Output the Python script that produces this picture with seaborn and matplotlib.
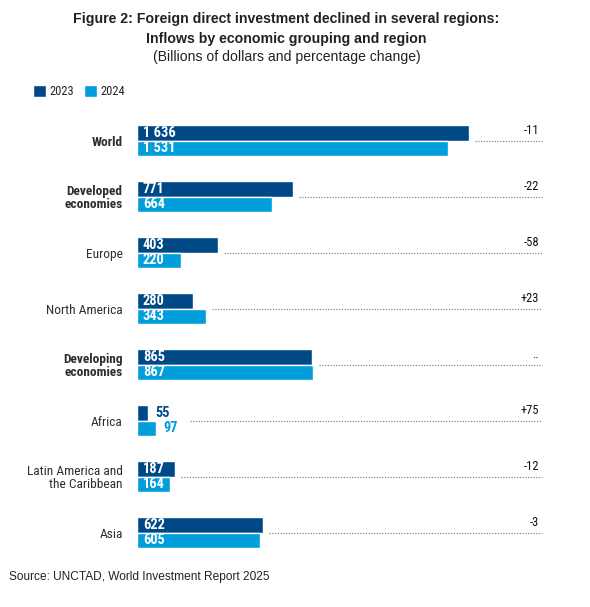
import matplotlib
matplotlib.use("Agg")
import matplotlib.pyplot as plt
from matplotlib import font_manager as fm
import seaborn as sns
import pandas as pd

# ---- data ----
regions = ["World", "Developed\neconomies", "Europe", "North America",
           "Developing\neconomies", "Africa", "Latin America and\nthe Caribbean", "Asia"]
bold_rows = [True, True, False, False, True, False, False, False]
years = ["2023", "2024"]
v2023 = [1636, 771, 403, 280, 865, 55, 187, 622]
v2024 = [1531, 664, 220, 343, 867, 97, 164, 605]
pct_change = ["-11", "-22", "-58", "+23", "..", "+75", "-12", "-3"]

DARK = "#004987"
LIGHT = "#009EDB"


def has_font(name):
    try:
        fm.findfont(fm.FontProperties(family=name), fallback_to_default=False)
        return True
    except Exception:
        return False


NARROW = next((f for f in ["Roboto Condensed", "Archivo Narrow", "PT Sans Narrow", "Liberation Sans"]
               if has_font(f)), "DejaVu Sans")
REG = "Liberation Sans" if has_font("Liberation Sans") else "DejaVu Sans"

sns.set_theme(style="white")
plt.rcParams["font.family"] = [NARROW, "DejaVu Sans"]

df = pd.DataFrame({
    "region": regions * 2,
    "year": [years[0]] * len(regions) + [years[1]] * len(regions),
    "value": v2023 + v2024,
})

W, H = 590, 607
fig = plt.figure(figsize=(W / 100, H / 100), dpi=100)
left_px, right_px = 136.5, 542.0
top_px, bot_px = 112.7, 560.7
ax = fig.add_axes([left_px / W, 1 - bot_px / H, (right_px - left_px) / W, (bot_px - top_px) / H])

sns.barplot(data=df, y="region", x="value", hue="year", orient="h",
            palette=[DARK, LIGHT], width=0.554, saturation=1, ax=ax,
            order=regions, hue_order=years)

ax.set_xlim(0, 1994)
ax.set_ylim(len(regions) - 0.5, -0.5)
ax.set_xticks([])
ax.set_xlabel("")
ax.set_ylabel("")
for s in ax.spines.values():
    s.set_visible(False)
ax.tick_params(axis="y", length=0, pad=10)
ax.set_yticks(range(len(regions)))
ax.set_yticklabels(regions)
for lab, b in zip(ax.get_yticklabels(), bold_rows):
    lab.set_fontsize(9.6)
    lab.set_color("#2e2e2e")
    lab.set_linespacing(1.0)
    lab.set_fontweight("bold" if b else "normal")

# legend
handles, labels = ax.get_legend_handles_labels()
ax.get_legend().remove()
fig.legend(handles, labels, loc="center left", bbox_to_anchor=(33 / W, 1 - 91.5 / H),
           ncol=2, frameon=False, borderpad=0, borderaxespad=0,
           handlelength=1.05, handleheight=1.05, handletextpad=0.25,
           columnspacing=0.8, prop={"family": NARROW, "size": 9})

# value labels
INSIDE_MIN = 150
outside_texts = {}
for cont, col in zip(ax.containers, [DARK, LIGHT]):
    for i, bar in enumerate(cont):
        w = bar.get_width()
        yc = bar.get_y() + bar.get_height() / 2
        lbl = f"{int(w):,}".replace(",", " ")
        if w >= INSIDE_MIN:
            ax.annotate(lbl, (0, yc), xytext=(4.5, 0), textcoords="offset points",
                        ha="left", va="center", color="white", fontweight="bold",
                        fontsize=10.4)
        else:
            t = ax.annotate(lbl, (w, yc), xytext=(5.5, 0), textcoords="offset points",
                            ha="left", va="center", color=col, fontweight="bold",
                            fontsize=10.4)
            outside_texts.setdefault(i, []).append(t)

fig.canvas.draw()
renderer = fig.canvas.get_renderer()
inv = ax.transData.inverted()

# dotted leaders and percent labels
for i in range(len(regions)):
    ends_px = []
    for cont in ax.containers:
        bar = cont[i]
        ends_px.append(ax.transData.transform((bar.get_width(), 0))[0] + 6)
    for t in outside_texts.get(i, []):
        ends_px.append(t.get_window_extent(renderer).x1 + 12)
    start = inv.transform((max(ends_px), 0))[0]
    ax.plot([start, 1994], [i, i], color="#8a8a8a", lw=0.9,
            linestyle=(0, (1, 1.2)), solid_capstyle="butt", clip_on=False)
    ax.annotate(pct_change[i], (1994, i), xytext=(-2.2, 2.5), textcoords="offset points",
                ha="right", va="bottom", fontsize=9, color="#111111")

# titles
cx = 286.5 / W
fig.text(cx, 1 - 19.5 / H, "Figure 2: Foreign direct investment declined in several regions:",
         ha="center", va="center", fontsize=10.15, fontweight="bold", family=REG, color="#222222")
fig.text(cx, 1 - 38.5 / H, "Inflows by economic grouping and region",
         ha="center", va="center", fontsize=10.15, fontweight="bold", family=REG, color="#222222")
fig.text(cx, 1 - 57.5 / H, "(Billions of dollars and percentage change)",
         ha="center", va="center", fontsize=10.1, family=REG, color="#222222")
fig.text(9 / W, 1 - 577 / H, "Source: UNCTAD, World Investment Report 2025",
         ha="left", va="center", fontsize=8.6, family=REG, color="#222222")

fig.savefig("out.png", dpi=100)
